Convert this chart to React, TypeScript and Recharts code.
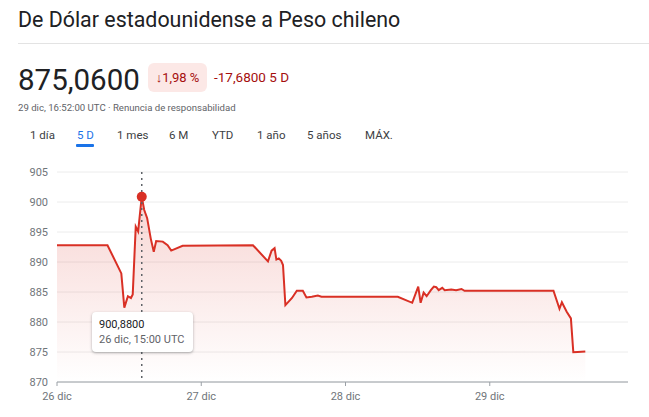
import { ComposedChart, Area, XAxis, YAxis, CartesianGrid, Tooltip } from 'recharts';

// hours since the 26 dic tick
const hours = [
  0, 8.4, 10.7, 11.2, 11.8, 12.3, 12.6, 13.1, 13.5, 14.1,
  14.5, 15.0, 15.6, 16.1, 16.5, 17.6, 18.4, 19.0, 20.9, 32.6,
  35.1, 35.7, 36.2, 36.5, 36.9, 37.3, 37.6, 38.0, 39.1, 39.9,
  40.9, 41.5, 42.4, 43.4, 44.0, 56.7, 59.1, 60.1, 60.5, 61.0,
  61.5, 62.2, 62.7, 63.1, 63.5, 64.1, 64.5, 65.6, 66.4, 67.3,
  67.8, 82.6, 83.6, 84.0, 84.8, 85.5, 85.9, 86.6, 87.9,
];
const rates = [
  892.8, 892.8, 888.1, 882.4, 884.3, 884.0, 884.6, 895.9, 895.1, 900.88,
  898.7, 897.3, 893.9, 891.7, 893.5, 893.4, 892.8, 891.9, 892.7, 892.8,
  890.1, 891.9, 892.3, 890.4, 890.6, 890.2, 889.5, 882.8, 884.0, 885.2,
  885.2, 884.1, 884.2, 884.4, 884.2, 884.2, 883.2, 885.9, 883.2, 884.9,
  884.3, 885.3, 885.9, 885.8, 885.3, 885.7, 885.3, 885.4, 885.3, 885.5,
  885.2, 885.2, 882.2, 883.3, 881.7, 880.6, 874.95, 875.0, 875.1,
];
const dayTicks = [0, 24, 48, 72];
const dayLabels = ['26 dic', '27 dic', '28 dic', '29 dic'];
const rateTicks = [870, 875, 880, 885, 890, 895, 900, 905];
const tabs = ['1 día', '5 D', '1 mes', '6 M', 'YTD', '1 año', '5 años', 'MÁX.'];
const tabLeft = [30, 77, 117, 169, 212, 257, 307, 365];
const peakIndex = 9;
const peakLabel = '26 dic, 15:00 UTC';

const data = hours.map((h, i) => ({ h, rate: rates[i] }));

const RED = '#d93025';
const font = 'Roboto, Arial, sans-serif';

const fmt = (v: number) => v.toFixed(4).replace('.', ',');

function TipBox({ payload }: any) {
  if (!payload || !payload.length) return null;
  return (
    <div style={{
      width: 101, height: 40, boxSizing: 'border-box', background: '#fff', borderRadius: 4,
      boxShadow: '0 1px 3px rgba(60,64,67,0.3), 0 1px 2px rgba(60,64,67,0.15)',
      padding: '5px 7px', fontFamily: font, fontSize: 11, lineHeight: '15px', whiteSpace: 'nowrap',
    }}>
      <div style={{ color: '#202124' }}>{fmt(payload[0].value)}</div>
      <div style={{ color: '#5f6368' }}>{peakLabel}</div>
    </div>
  );
}

export default function App() {
  return (
    <div style={{ position: 'absolute', left: 0, top: 0, width: 649, height: 417, background: '#fff', fontFamily: font, overflow: 'hidden' }}>
      <div style={{ position: 'absolute', left: 18, top: 7, fontSize: 21.4, color: '#202124', whiteSpace: 'nowrap' }}>
        De Dólar estadounidense a Peso chileno
      </div>
      <div style={{ position: 'absolute', left: 18, right: 0, top: 43, height: 1, background: '#e3e3e3' }} />

      <div style={{ position: 'absolute', left: 18, top: 63, fontSize: 29.5, color: '#202124', whiteSpace: 'nowrap' }}>
        875,0600
      </div>
      <div style={{
        position: 'absolute', left: 148, top: 63, width: 59, height: 29, borderRadius: 6, background: '#fce8e6',
        color: '#a50e0e', fontSize: 13, lineHeight: '29px', textAlign: 'center', whiteSpace: 'nowrap',
      }}>
        ↓1,98 %
      </div>
      <div style={{ position: 'absolute', left: 214, top: 69, fontSize: 13.5, color: '#a50e0e', whiteSpace: 'nowrap' }}>
        -17,6800 5 D
      </div>
      <div style={{ position: 'absolute', left: 18, top: 102, fontSize: 9.6, color: '#5f6368', whiteSpace: 'nowrap' }}>
        29 dic, 16:52:00 UTC · Renuncia de responsabilidad
      </div>

      {tabs.map((t, i) => (
        <div key={t} style={{
          position: 'absolute', left: tabLeft[i], top: 128, fontSize: 11.5, whiteSpace: 'nowrap',
          color: i === 1 ? '#1a73e8' : '#3c4043',
        }}>
          {t}
        </div>
      ))}
      <div style={{ position: 'absolute', left: 76, top: 144, width: 18, height: 2.5, background: '#1a73e8', borderRadius: 1 }} />

      <div style={{ position: 'absolute', left: 0, top: 0 }}>
        <ComposedChart width={649} height={417} data={data} margin={{ top: 172, right: 21, bottom: 5, left: 17 }}>
          <defs>
            <linearGradient id="rateFill" x1="0" y1="0" x2="0" y2="1">
              <stop offset="0%" stopColor={RED} stopOpacity={0.2} />
              <stop offset="100%" stopColor={RED} stopOpacity={0} />
            </linearGradient>
          </defs>
          <CartesianGrid vertical={false} stroke="#ececec" />
          <XAxis
            dataKey="h"
            type="number"
            domain={[0, 95]}
            ticks={dayTicks}
            tickFormatter={(v) => dayLabels[dayTicks.indexOf(v)]}
            tick={{ fill: '#70757a', fontSize: 11 }}
            stroke="#9aa0a6"
            tickSize={4}
            tickMargin={6}
            height={30}
          />
          <YAxis
            type="number"
            domain={[870, 905]}
            ticks={rateTicks}
            width={40}
            axisLine={false}
            tickLine={false}
            tickSize={0}
            tickMargin={9}
            tick={{ fill: '#70757a', fontSize: 11 }}
          />
          <Tooltip
            active
            defaultIndex={peakIndex}
            position={{ x: 92, y: 312 }}
            isAnimationActive={false}
            cursor={{ stroke: '#5f6368', strokeDasharray: '2 4', strokeWidth: 1.5 }}
            content={<TipBox />}
          />
          <Area
            type="linear"
            dataKey="rate"
            stroke={RED}
            strokeWidth={2}
            fill="url(#rateFill)"
            fillOpacity={1}
            baseValue={870}
            dot={false}
            activeDot={{ r: 5, fill: RED, stroke: 'none' }}
            isAnimationActive={false}
          />
        </ComposedChart>
      </div>
    </div>
  );
}
